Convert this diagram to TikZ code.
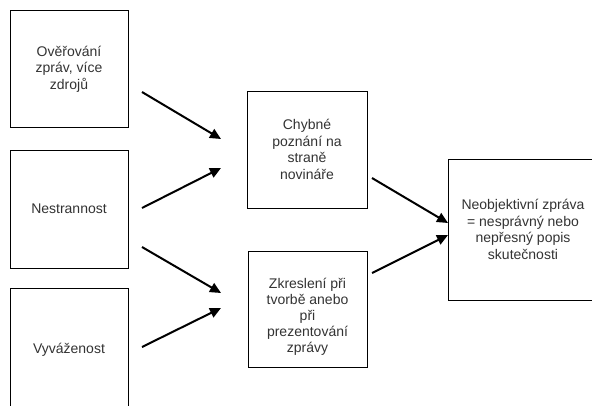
\documentclass[tikz,border=0pt]{standalone}
\usepackage{fontspec}
\setmainfont{Liberation Sans}
\usetikzlibrary{arrows.meta}
\definecolor{txt}{HTML}{333333}
\tikzset{
  box/.style={draw=black, line width=1pt, inner sep=0pt, text=txt, align=center, font=\fontsize{14pt}{16.5pt}\selectfont},
  arr/.style={line width=2pt, -{Triangle[length=11pt,width=10pt]}}
}
\begin{document}
\begin{tikzpicture}[x=1pt,y=-1pt]
\useasboundingbox (0,0) rectangle (592,405);
\clip (0,0) rectangle (592,405);
\fill[white] (0,0) rectangle (592,405);
% boxes
\node[box, minimum width=118pt, minimum height=117pt] (b1) at (69,69) {Ověřování\\zpráv, více\\zdrojů};
\node[box, minimum width=118pt, minimum height=118pt] (b2) at (69,209) {Nestrannost};
\node[box, minimum width=118pt, minimum height=124pt] (b3) at (69,350) {Vyváženost};
\node[box, minimum width=120pt, minimum height=117pt] (c1) at (307,149.5) {Chybné\\poznání na\\straně\\novináře};
\node[box, minimum width=119pt, minimum height=116pt] (c2) at (307.5,309) {};
\node[text=txt, align=center, font=\fontsize{14pt}{16pt}\selectfont] (c2t) at (c2.center) [yshift=-8pt] {Zkreslení při\\tvorbě anebo\\při\\prezentování\\zprávy};
\node[box, minimum width=150pt, minimum height=141pt] (d) at (523,229.5) {Neobjektivní zpráva\\= nesprávný nebo\\nepřesný popis\\skutečnosti};
% arrow endpoints
\coordinate (a1s) at (142,92);  \coordinate (a1e) at (221,139);
\coordinate (a2s) at (142,208); \coordinate (a2e) at (221,168);
\coordinate (a3s) at (142,247); \coordinate (a3e) at (221,293);
\coordinate (a4s) at (142,347); \coordinate (a4e) at (221,308);
\coordinate (a5s) at (372,178); \coordinate (a5e) at (448,223);
\coordinate (a6s) at (372,273); \coordinate (a6e) at (448,235);
\draw[arr] (a1s) -- (a1e);
\draw[arr] (a2s) -- (a2e);
\draw[arr] (a3s) -- (a3e);
\draw[arr] (a4s) -- (a4e);
\draw[arr] (a5s) -- (a5e);
\draw[arr] (a6s) -- (a6e);
\end{tikzpicture}
\end{document}
